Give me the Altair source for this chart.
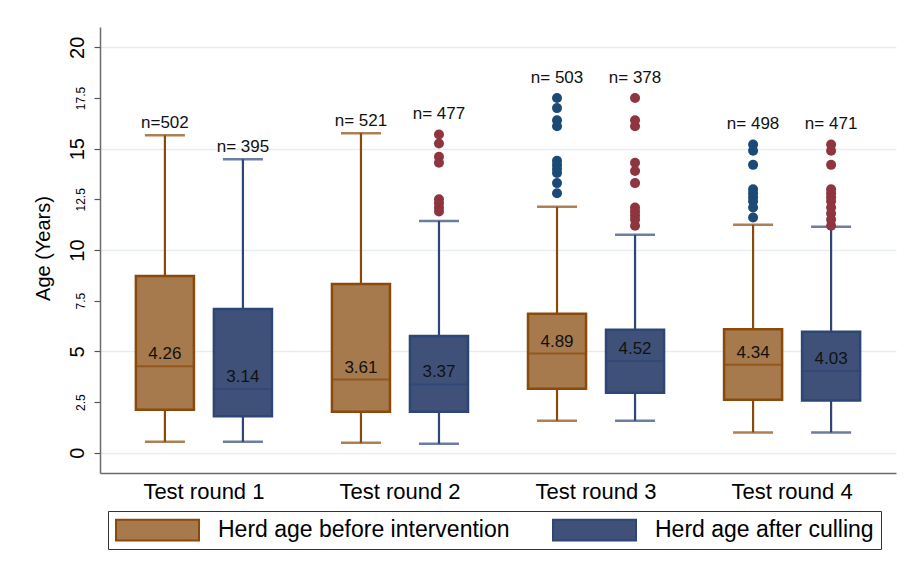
import altair as alt
import pandas as pd

rounds = ["Test round 1", "Test round 2", "Test round 3", "Test round 4"]
series = ["Herd age before intervention", "Herd age after culling"]
keys = ["before", "after"]

before_low = [0.54, 0.49, 1.58, 1.00]
before_q1 = [2.12, 2.02, 3.15, 2.61]
before_median = [4.26, 3.61, 4.89, 4.34]
before_q3 = [8.72, 8.32, 6.85, 6.09]
before_high = [15.66, 15.76, 12.13, 11.25]
before_n = ["n=502", "n= 521", "n= 503", "n= 498"]
before_outliers = [
    [],
    [],
    [17.5, 17.0, 16.4, 16.1, 14.4, 14.2, 14.0, 13.8, 13.3, 12.8],
    [15.2, 14.9, 14.2, 13.0, 12.8, 12.6, 12.4, 12.1, 11.6],
]

after_low = [0.54, 0.44, 1.58, 1.00]
after_q1 = [1.80, 2.02, 2.96, 2.58]
after_median = [3.14, 3.37, 4.52, 4.03]
after_q3 = [7.09, 5.76, 6.06, 5.97]
after_high = [14.48, 11.43, 10.75, 11.15]
after_n = ["n= 395", "n= 477", "n= 378", "n= 471"]
after_outliers = [
    [],
    [15.7, 15.25, 14.6, 14.3, 12.5, 12.3, 12.1, 11.9],
    [17.5, 16.4, 16.1, 14.3, 13.9, 13.3, 12.1, 11.9, 11.7, 11.5, 11.2],
    [15.2, 14.9, 14.2, 13.0, 12.8, 12.6, 12.4, 12.1, 11.8, 11.5, 11.2],
]

y_ticks = [0, 2.5, 5, 7.5, 10, 12.5, 15, 17.5, 20]

fill_colors = ["#A67A4C", "#3F5179"]
line_colors = ["#8A4A0C", "#2E4676"]
outlier_colors = ["#1B4A76", "#8E3540"]

FONT = "Liberation Sans"

# ---- build tables ----
rows = []
out_rows = []
for s, k, low, q1, med, q3, high, nl, outs in [
    (series[0], keys[0], before_low, before_q1, before_median, before_q3, before_high, before_n, before_outliers),
    (series[1], keys[1], after_low, after_q1, after_median, after_q3, after_high, after_n, after_outliers),
]:
    for i, r in enumerate(rounds):
        top = max([high[i]] + outs[i])
        rows.append(dict(round=r, series=s, key=k, low=low[i], q1=q1[i], med=med[i], q3=q3[i],
                         high=high[i], med_label=f"{med[i]:.2f}", n_label=nl[i],
                         label_y=top + (1.0 if outs[i] else 0.6)))
        for v in outs[i]:
            out_rows.append(dict(round=r, series=s, key=k, value=v))

summary = pd.DataFrame(rows)
outliers = pd.DataFrame(out_rows)

x_enc = alt.X("round:N", sort=rounds,
              scale=alt.Scale(domain=rounds, paddingInner=0, paddingOuter=0.03),
              axis=alt.Axis(title=None, labelAngle=0, ticks=False, labelPadding=8,
                            labelFontSize=22, labelFont=FONT, labelColor="black",
                            domainColor="#6b6b6b", domainWidth=1.5, grid=False))
xo_enc = alt.XOffset("series:N", sort=series,
                     scale=alt.Scale(domain=series, paddingInner=0.256, paddingOuter=0.3845))

y_scale = alt.Scale(domain=[-1, 21], nice=False, zero=False)
y_axis = alt.Axis(
    values=y_ticks, title="Age (Years)", titleFont=FONT, titleFontSize=20,
    titleFontWeight="normal", titleColor="black", titleAngle=270,
    titleX=-57, titleY=221, titleAlign="center", titleBaseline="middle",
    labelAngle=270, labelAlign="center", labelBaseline="bottom",
    labelExpr="format(datum.value, '~g')", labelFont=FONT, labelColor="black",
    labelFontSize={"condition": {"test": "datum.value % 5 === 0", "value": 20}, "value": 12},
    labelPadding=7, tickSize=6, tickColor="#555555", tickWidth=1.2,
    domainColor="#6b6b6b", domainWidth=1.5,
    grid=True, gridWidth=1.5,
    gridColor={"condition": {"test": "datum.value % 5 === 0", "value": "#E6EDF2"}, "value": "transparent"},
)

# separate scale (own domain) for the whisker / median line colours
line_color = alt.Color("key:N", scale=alt.Scale(domain=keys, range=line_colors), legend=None)

base = alt.Chart(summary).encode(x=x_enc, xOffset=xo_enc)

whiskers = base.mark_rule(strokeWidth=2.2).encode(
    y=alt.Y("low:Q", scale=y_scale, axis=y_axis), y2="high:Q", color=line_color)

caps_low = base.mark_tick(size=40, thickness=2.5).encode(
    y=alt.Y("low:Q", scale=y_scale, axis=y_axis), color=line_color)
caps_high = base.mark_tick(size=40, thickness=2.5).encode(
    y=alt.Y("high:Q", scale=y_scale, axis=y_axis), color=line_color)

legend_def = alt.Legend(
    orient="none", legendX=8, legendY=484, direction="horizontal",
    title=None, symbolType="M-1,-0.25H1V0.25H-1Z", symbolSize=6889,
    symbolStrokeWidth=2, clipHeight=24, labelFontSize=23, labelFont=FONT,
    labelColor="black", labelOffset=18, columnPadding=42, padding=7,
    labelLimit=400,
    strokeColor="#333333", fillColor="white", symbolOpacity=1)

boxes = base.mark_bar(strokeWidth=2.5).encode(
    y=alt.Y("q1:Q", scale=y_scale, axis=y_axis), y2="q3:Q",
    fill=alt.Fill("series:N", scale=alt.Scale(domain=series, range=fill_colors),
                  legend=legend_def),
    stroke=alt.Stroke("series:N", scale=alt.Scale(domain=series, range=line_colors),
                      legend=legend_def),
)

medians = base.mark_tick(size=60, thickness=2).encode(
    y=alt.Y("med:Q", scale=y_scale, axis=y_axis), color=line_color)

med_text = base.mark_text(font=FONT, fontSize=17, baseline="bottom", dy=-3, color="#111111").encode(
    y=alt.Y("med:Q", scale=y_scale, axis=y_axis), text="med_label:N")

n_text = base.mark_text(font=FONT, fontSize=17, baseline="middle", color="#111111").encode(
    y=alt.Y("label_y:Q", scale=y_scale, axis=y_axis), text="n_label:N")

obase = alt.Chart(outliers).encode(x=x_enc, xOffset=xo_enc,
                                   y=alt.Y("value:Q", scale=y_scale, axis=y_axis))
out_before = obase.transform_filter(alt.datum.key == keys[0]).mark_circle(
    size=100, opacity=1, color=outlier_colors[0])
out_after = obase.transform_filter(alt.datum.key == keys[1]).mark_circle(
    size=100, opacity=1, color=outlier_colors[1])

chart = alt.layer(
    whiskers, caps_low, caps_high, boxes, medians, med_text, out_before, out_after, n_text
).properties(
    width=796, height=446,
    autosize=alt.AutoSizeParams(type="none"),
    padding={"left": 92, "top": 19, "right": 3, "bottom": 80},
    background="white",
).configure_view(stroke=None)

chart.save("out.html", embed_options={"renderer": "svg", "actions": False})
